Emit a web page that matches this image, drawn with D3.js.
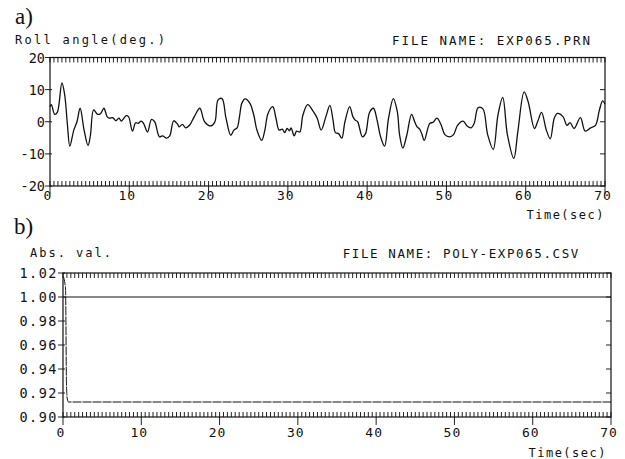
<!DOCTYPE html>
<html>
<head>
<meta charset="utf-8">
<script src="https://cdn.jsdelivr.net/npm/d3@7/dist/d3.min.js"></script>
<style>
body{margin:0;background:#fff}
svg text{font-family:"DejaVu Sans Mono",monospace;fill:#111}
</style>
</head>
<body>
<div id="vis"></div>
<script>
// DATOS
var rollTime = [0,0.17,0.59,0.92,1.5,1.85,2.2,2.5,3.0,3.4,3.8,4.3,4.8,5.1,5.5,6.0,6.4,6.8,7.2,7.5,7.9,8.3,8.7,9.0,9.6,9.9,
  10.4,10.8,11.1,11.5,11.8,12.3,12.8,13.2,13.8,14.2,14.7,15.1,15.6,16.1,16.3,16.7,17.1,17.6,18.2,18.9,19.5,
  20.3,20.8,21.2,21.7,22.2,22.8,23.2,23.6,23.9,24.2,24.6,25.2,25.7,26.1,26.7,27.1,27.5,28.1,28.5,28.9,29.3,29.6,29.9,
  30.2,30.4,30.8,31.1,31.5,31.9,32.5,33.2,33.7,34.2,34.8,35.3,35.7,36.0,36.4,36.8,37.2,37.8,38.2,38.5,38.8,39.4,39.8,
  40.3,40.8,41.2,41.7,42.2,42.7,43.3,43.8,44.1,44.5,45.0,45.6,46.0,46.3,46.6,46.9,47.2,47.9,48.3,48.8,49.3,49.8,
  50.4,50.9,51.4,52.1,52.6,53.1,53.5,54.0,54.6,55.2,55.9,56.5,57.1,57.7,58.5,59.0,59.8,
  60.3,61.1,61.5,62.0,62.6,63.1,63.6,64.0,64.7,65.2,65.6,66.1,66.9,67.5,68.2,68.8,69.3,69.7,70];
var rollDeg = [4.7,5.3,2.3,2.9,12.1,8.4,-1,-7.6,-2.6,0,4.2,-2.6,-7.4,-4.2,3.7,2.3,2.6,4.2,1.6,1.1,1.3,0.3,1.1,0.2,1.9,1.6,
  -2.9,-0.3,-0.5,0.2,-0.5,-3.2,0.7,0,-4.7,-4.4,-5.1,-4.4,0.3,-0.8,-1.6,-0.8,-1.9,-1.1,1.6,4.2,0,
  -1.3,0,6.8,7.2,1.1,-4.2,-2.6,-1.9,1.6,5.8,7.1,5.8,2.1,-2.6,-5.8,-2.6,2.6,4.7,1.1,-2.6,-2.3,-3.4,-2.1,
  -2.8,-1.9,-4.4,-2.9,-3.2,2.1,5.3,3.2,1.1,-2.6,1.6,5.1,0.5,-3.4,-3.7,-5.1,0,4.7,1.6,0.5,0,-4.7,-3.7,
  2.9,4.2,1.1,-4.7,-7.6,1.1,7.2,3.2,-4.2,-8.2,-4.2,2.3,0,-1.6,-2.2,-3.8,-5.8,-0.5,-0.2,1.1,-0.8,-4.0,
  -4.7,-4.0,-1.1,0.2,-1.3,-1.9,-0.5,4.4,4.0,-4.0,-8.6,2.1,7.6,-4.2,-11.4,-3.2,9.3,
  6.3,-2.1,0,2.9,-2.6,-5.3,1.1,2.6,1.6,-1.1,-0.3,-2.1,1.3,-2.9,-1.9,-1.1,3.7,6.5,5.5];

var unityTime = [0, 70];
var unityVal = [1.00, 1.00];
var absTime = [0.05,0.2,0.33,0.38,0.42,0.47,0.55,0.7,70];
var absVal = [1.017,1.013,1.006,0.975,0.94,0.922,0.915,0.9125,0.9125];

var rollTicks = [-20,-10,0,10,20];
var absTicks = [0.90,0.92,0.94,0.96,0.98,1.00,1.02];
var timeTicks = [0,10,20,30,40,50,60,70];

var W = 625, H = 459;
var svg = d3.select("#vis").append("svg").attr("width", W).attr("height", H);

function panel(p){
  var x = d3.scaleLinear().domain([0,70]).range([p.left, p.right]);
  var y = d3.scaleLinear().domain(p.ydom).range([p.bottom, p.top]);
  var g = svg.append("g");

  // ticks menores arriba y abajo cada 0.5 s
  var minor = d3.range(0, 70.001, 0.5);
  g.selectAll(".mt").data(minor).enter().append("line")
    .attr("x1", d => x(d)).attr("x2", d => x(d))
    .attr("y1", p.top).attr("y2", p.top + 5)
    .attr("stroke","#222").attr("stroke-width",1);
  g.selectAll(".mb").data(minor).enter().append("line")
    .attr("x1", d => x(d)).attr("x2", d => x(d))
    .attr("y1", p.bottom).attr("y2", p.bottom - 5)
    .attr("stroke","#222").attr("stroke-width",1);

  // ticks mayores en x (hacia abajo)
  g.selectAll(".xM").data(timeTicks).enter().append("line")
    .attr("x1", d => x(d)).attr("x2", d => x(d))
    .attr("y1", p.bottom).attr("y2", p.bottom + 8)
    .attr("stroke","#222");
  g.selectAll(".xl").data(timeTicks).enter().append("text")
    .attr("x", d => x(d) - 2).attr("y", p.xlabY)
    .attr("text-anchor","middle").attr("font-size", 13)
    .style("letter-spacing","1px")
    .text(d => d);

  // ticks y
  g.selectAll(".yl").data(p.yticks).enter().append("line")
    .attr("x1", p.left - 5).attr("x2", p.left + 2)
    .attr("y1", d => y(d)).attr("y2", d => y(d))
    .attr("stroke","#222");
  g.selectAll(".yr").data(p.yticks).enter().append("line")
    .attr("x1", p.right - 5).attr("x2", p.right)
    .attr("y1", d => y(d)).attr("y2", d => y(d))
    .attr("stroke","#222");
  g.selectAll(".ylab").data(p.yticks).enter().append("text")
    .attr("x", p.left - 5).attr("y", d => y(d) + 5)
    .attr("text-anchor","end").attr("font-size", 13.5)
    .style("letter-spacing", p.yls)
    .text(p.yfmt);

  g.append("rect")
    .attr("x", p.left).attr("y", p.top)
    .attr("width", p.right - p.left).attr("height", p.bottom - p.top)
    .attr("fill","none").attr("stroke","#111").attr("stroke-width",1.2);

  return {x:x, y:y, g:g};
}

// a) Roll angle
var pa = panel({left:50, right:605, top:57.5, bottom:186, ydom:[-20,20],
  yticks: rollTicks, yfmt: d => d, yls:"0px", xlabY:200});

var line = d3.line().curve(d3.curveCatmullRom.alpha(0.5));
pa.g.append("path")
  .attr("d", line(rollTime.map((t,i) => [pa.x(t), pa.y(rollDeg[i])])))
  .attr("fill","none").attr("stroke","#111").attr("stroke-width",1.3);

svg.append("text").attr("x",15).attr("y",24)
  .style("font-family","'Liberation Serif',serif").attr("font-size",23).text("a)");
svg.append("text").attr("x",15).attr("y",44).attr("font-size",12)
  .style("letter-spacing","2.3px").text("Roll angle(deg.)");
svg.append("text").attr("x",592).attr("y",45).attr("font-size",12.5)
  .attr("text-anchor","end").style("letter-spacing","2px").text("FILE NAME: EXP065.PRN");
svg.append("text").attr("x",605).attr("y",219).attr("font-size",12)
  .attr("text-anchor","end").style("letter-spacing","1.5px").text("Time(sec)");

// b) Abs. val.
var pb = panel({left:63, right:611, top:273, bottom:417, ydom:[0.90,1.02],
  yticks: absTicks, yfmt: d3.format(".2f"), yls:"1.5px", xlabY:437});

var lineb = d3.line();
pb.g.append("path")
  .attr("d", lineb(unityTime.map((t,i) => [pb.x(t), pb.y(unityVal[i])])))
  .attr("fill","none").attr("stroke","#111").attr("stroke-width",1.2);
pb.g.append("path")
  .attr("d", d3.line().curve(d3.curveMonotoneX)(absTime.map((t,i) => [pb.x(t), pb.y(absVal[i])])))
  .attr("fill","none").attr("stroke","#111").attr("stroke-width",1)
  .attr("stroke-dasharray","9,1");

svg.append("text").attr("x",14).attr("y",234)
  .style("font-family","'Liberation Serif',serif").attr("font-size",23).text("b)");
svg.append("text").attr("x",30).attr("y",257).attr("font-size",12)
  .style("letter-spacing","2px").text("Abs. val.");
svg.append("text").attr("x",580).attr("y",258).attr("font-size",12.5)
  .attr("text-anchor","end").style("letter-spacing","1.6px").text("FILE NAME: POLY-EXP065.CSV");
svg.append("text").attr("x",607).attr("y",457).attr("font-size",12)
  .attr("text-anchor","end").style("letter-spacing","1.5px").text("Time(sec)");
</script>
</body>
</html>
